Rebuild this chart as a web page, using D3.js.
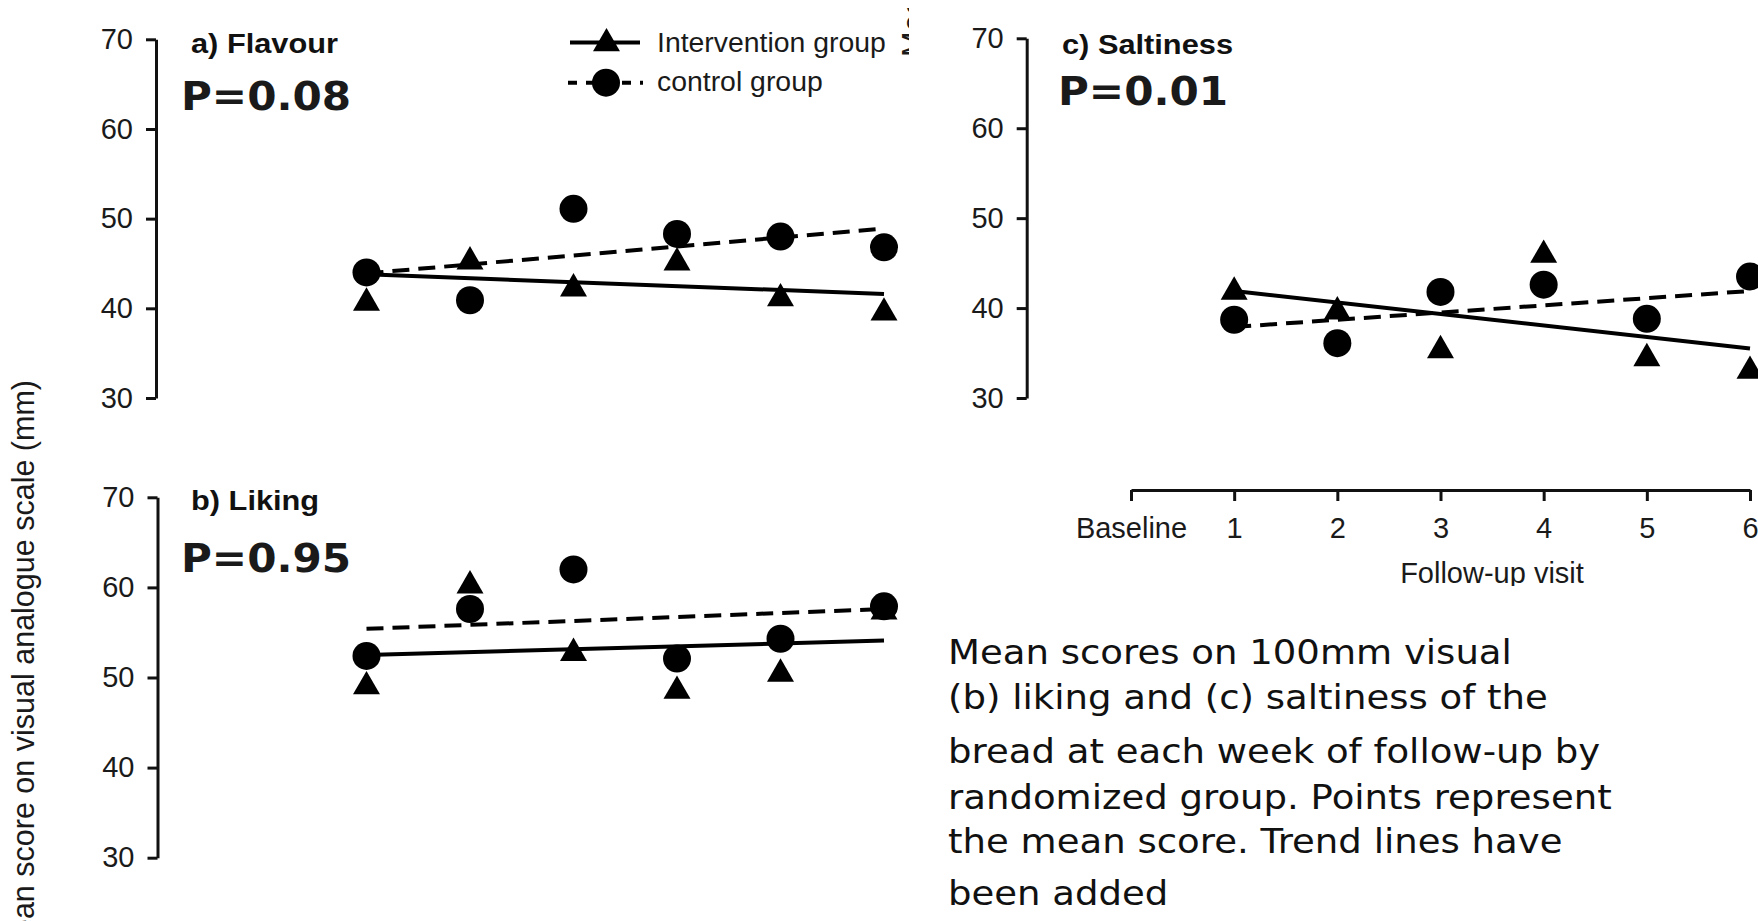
<!DOCTYPE html>
<html lang="en">
<head>
    <meta charset="UTF-8">
    <title>Mean scores on visual analogue scale by group</title>
    <script src="https://d3js.org/d3.v7.min.js"></script>
    <style>
        body { margin: 0; background: #fff; }
        svg { display: block; }
        .axis .domain, .axis line {
            stroke: #111;
            stroke-width: 3px;
        }
        .axis text {
            font-family: "Liberation Sans", Arial, sans-serif;
            font-size: 29px;
            fill: #1a1a1a;
        }
        .trend { fill: none; stroke: #000; stroke-width: 4px; }
        .trend.control { stroke-dasharray: 17 9; }
        .title {
            font-family: "Liberation Sans", Arial, sans-serif;
            font-weight: bold;
            font-size: 27px;
            fill: #111;
        }
        .pval {
            font-family: "DejaVu Sans", Verdana, sans-serif;
            font-weight: bold;
            font-size: 39px;
            fill: #1a1a1a;
        }
        .label {
            font-family: "Liberation Sans", Arial, sans-serif;
            font-size: 29px;
            fill: #1a1a1a;
        }
        .legend-label { font-size: 28.4px; }
        .ylabel { font-size: 30.5px; }
        .caption {
            font-family: "DejaVu Sans", Verdana, sans-serif;
            font-size: 34px;
            fill: #111;
        }
    </style>
</head>
<body>
<svg width="1758" height="921"></svg>
<script>
    const visits = ["Baseline", "1", "2", "3", "4", "5", "6"];
    const pointVisits = ["1", "2", "3", "4", "5", "6"];
    const yTicks = [30, 40, 50, 60, 70];

    // mean scores at follow-up visits 1-6
    const flavourIntervention = [40.6, 45.2, 42.2, 45.1, 41.1, 39.5];
    const flavourControl = [44.0, 40.9, 51.1, 48.3, 48.0, 46.8];
    const likingIntervention = [49.0, 60.2, 52.7, 48.5, 50.4, 57.3];
    const likingControl = [52.4, 57.6, 62.0, 52.1, 54.3, 57.9];
    const saltinessIntervention = [41.8, 39.6, 35.3, 45.9, 34.4, 33.0];
    const saltinessControl = [38.7, 36.1, 41.8, 42.6, 38.8, 43.5];

    // trend lines: value at visit 1 and at visit 6
    const flavourTrendIntervention = [43.8, 41.6];
    const flavourTrendControl = [43.9, 48.9];
    const likingTrendIntervention = [52.5, 54.1];
    const likingTrendControl = [55.4, 57.6];
    const saltinessTrendIntervention = [41.9, 35.5];
    const saltinessTrendControl = [37.9, 41.9];

    const panelTitles = ["a) Flavour", "b) Liking", "c) Saltiness"];
    const pValues = ["P=0.08", "P=0.95", "P=0.01"];
    const legendLabels = ["Intervention group", "control group"];
    const yAxisLabel = "Mean score on visual analogue scale (mm)";
    const xAxisLabel = "Follow-up visit";
    const captionLines = [
        "Mean scores on 100mm visual",
        "(b) liking and (c) saltiness of the",
        "bread at each week of follow-up by",
        "randomized group. Points represent",
        "the mean score. Trend lines have",
        "been added"
    ];

    const svg = d3.select("svg");
    const triangle = d3.symbol(d3.symbolTriangle, 315)();
    const dotR = 14;

    // where each panel sits on the page
    const layout = [
        { axisX: 156, top: 39.3, bottom: 398, xRange: [263, 884], titleX: 191, titleY: 53, pX: 181, pY: 110 },
        { axisX: 157.5, top: 497.3, bottom: 857.7, xRange: [263, 884], titleX: 191, titleY: 510, pX: 181, pY: 572 },
        { axisX: 1026.7, top: 38.3, bottom: 398, xRange: [1131, 1750], titleX: 1062, titleY: 54, pX: 1058, pY: 105, xAxisY: 490 }
    ];

    const panels = [
        { intervention: flavourIntervention, control: flavourControl, trendI: flavourTrendIntervention, trendC: flavourTrendControl },
        { intervention: likingIntervention, control: likingControl, trendI: likingTrendIntervention, trendC: likingTrendControl },
        { intervention: saltinessIntervention, control: saltinessControl, trendI: saltinessTrendIntervention, trendC: saltinessTrendControl }
    ].map((p, i) => Object.assign(p, layout[i], { title: panelTitles[i], pval: pValues[i] }));

    function drawPanel(p) {
        const x = d3.scalePoint().domain(visits).range(p.xRange);
        const y = d3.scaleLinear().domain([30, 70]).range([p.bottom, p.top]);
        const g = svg.append("g");

        g.append("g")
            .attr("class", "axis")
            .attr("transform", `translate(${p.axisX},0)`)
            .call(d3.axisLeft(y).tickValues(yTicks).tickSize(10).tickSizeOuter(0).tickPadding(13));

        if (p.xAxisY) {
            g.append("g")
                .attr("class", "axis")
                .attr("transform", `translate(0,${p.xAxisY})`)
                .call(d3.axisBottom(x).tickSize(11).tickSizeOuter(0).tickPadding(16));
        }

        g.append("text").attr("class", "title")
            .attr("transform", `translate(${p.titleX},${p.titleY}) scale(1.14,1)`)
            .text(p.title);
        g.append("text").attr("class", "pval")
            .attr("transform", `translate(${p.pX},${p.pY}) scale(1.08,1)`)
            .text(p.pval);

        // trend lines
        const line = d3.line().x(d => x(d.visit)).y(d => y(d.value));
        [[p.trendI, "intervention"], [p.trendC, "control"]].forEach(([t, cls]) => {
            g.append("path")
                .attr("class", "trend " + cls)
                .attr("d", line([{ visit: "1", value: t[0] }, { visit: "6", value: t[1] }]));
        });

        g.selectAll(".tri")
            .data(pointVisits.map((v, i) => ({ visit: v, value: p.intervention[i] })))
            .join("path")
            .attr("class", "tri")
            .attr("transform", d => `translate(${x(d.visit)},${y(d.value)})`)
            .attr("d", triangle)
            .attr("fill", "#000");

        g.selectAll(".dot")
            .data(pointVisits.map((v, i) => ({ visit: v, value: p.control[i] })))
            .join("circle")
            .attr("class", "dot")
            .attr("cx", d => x(d.visit))
            .attr("cy", d => y(d.value))
            .attr("r", dotR)
            .attr("fill", "#000");
    }

    panels.forEach(drawPanel);

    // legend (top of panel a)
    const legend = svg.append("g");
    legend.append("line").attr("x1", 570).attr("x2", 640).attr("y1", 42.5).attr("y2", 42.5)
        .attr("stroke", "#000").attr("stroke-width", 4);
    legend.append("path").attr("d", triangle).attr("transform", "translate(606.5,43.5)").attr("fill", "#000");
    legend.append("line").attr("x1", 568).attr("x2", 643).attr("y1", 82.7).attr("y2", 82.7)
        .attr("stroke", "#000").attr("stroke-width", 4).attr("stroke-dasharray", "9 9");
    legend.append("circle").attr("cx", 606).attr("cy", 82.7).attr("r", dotR).attr("fill", "#000");
    legend.selectAll(".label")
        .data(legendLabels)
        .join("text")
        .attr("class", "label legend-label")
        .attr("x", 657)
        .attr("y", (d, i) => [52, 91][i])
        .text(d => d);

    // shared y label, cut at the left edge and bottom
    svg.append("text").attr("class", "label ylabel")
        .attr("transform", "translate(34,380) rotate(-90)")
        .attr("text-anchor", "end")
        .text(yAxisLabel);

    // sliver of panel c's own y label, mostly hidden
    svg.append("clipPath").attr("id", "sliver")
        .append("rect").attr("x", 880).attr("y", 8).attr("width", 29).attr("height", 52);
    svg.append("g").attr("clip-path", "url(#sliver)")
        .append("text").attr("class", "label ylabel")
        .attr("transform", "translate(924,57) rotate(-90)")
        .text(yAxisLabel);

    svg.append("text").attr("class", "label")
        .attr("x", 1492).attr("y", 583)
        .attr("text-anchor", "middle")
        .text(xAxisLabel);

    // caption box pasted over the lower right
    svg.append("rect").attr("x", 905).attr("y", 586).attr("width", 853).attr("height", 335).attr("fill", "#fff");
    const captionY = [664, 708.5, 763, 808.5, 852.5, 905];
    svg.selectAll(".caption")
        .data(captionLines)
        .join("text")
        .attr("class", "caption")
        .attr("transform", (d, i) => `translate(948,${captionY[i]}) scale(1.09,1)`)
        .text(d => d);
</script>
</body>
</html>
